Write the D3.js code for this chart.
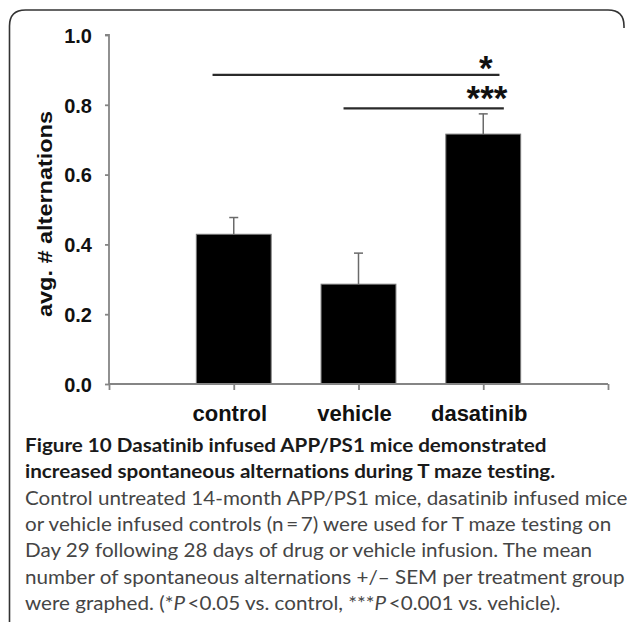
<!DOCTYPE html>
<html>
<head>
<meta charset="utf-8">
<script src="https://cdn.jsdelivr.net/npm/d3@7"></script>
<style>
  html, body { margin: 0; padding: 0; background: #fff; }
  svg { display: block; }
</style>
</head>
<body>
<svg id="chart" width="627" height="622"></svg>
<script>
// ---- data ----
const categories = ["control", "vehicle", "dasatinib"];
const means = [0.429, 0.286, 0.716];
const sems = [0.048, 0.089, 0.058];
const yTicks = [0.0, 0.2, 0.4, 0.6, 0.8, 1.0];
const yLabel = "avg. # alternations";
// significance brackets, in category units (control = 1, vehicle = 2, dasatinib = 3)
const sigFrom = [0.83, 1.88];
const sigTo = [3.13, 3.165];
const sigLevel = [0.886, 0.790];
const sigText = ["*", "***"];
const sigTextPos = [3.02, 3.03];
const captionBold = [
  "Figure 10 Dasatinib infused APP/PS1 mice demonstrated",
  "increased spontaneous alternations during T maze testing."
];
const captionBody = [
  [["Control untreated 14-month APP/PS1 mice, dasatinib infused mice", false]],
  [["or vehicle infused controls (n\u2009=\u20097) were used for T maze testing on", false]],
  [["Day 29 following 28 days of drug or vehicle infusion. The mean", false]],
  [["number of spontaneous alternations +/\u2013 SEM per treatment group", false]],
  [["were graphed. (*", false], ["P", true], ["\u2009<0.05 vs. control, ***", false], ["P", true], ["\u2009<0.001 vs. vehicle).", false]]
];

// ---- layout ----
const svg = d3.select("#chart");
const plot = { left: 109, right: 608, top: 35, bottom: 384 };

const xCat = d3.scaleLinear().domain([0, categories.length + 1]).range([plot.left, plot.right]);
const step = xCat(1) - xCat(0);
const y = d3.scaleLinear().domain([0, 1]).range([plot.bottom, plot.top]);

// frame
const fx0 = 9.5, fy0 = 10, fx1 = 624, r = 16;
svg.append("path")
  .attr("d", `M${fx0},622 L${fx0},${fy0 + r} Q${fx0},${fy0} ${fx0 + r},${fy0} L${fx1 - r},${fy0} Q${fx1},${fy0} ${fx1},${fy0 + r} L${fx1},${fy0 + r + 2}`)
  .attr("fill", "none").attr("stroke", "#333").attr("stroke-width", 1.6);

const axisColor = "#858585";

// bars
const g = svg.append("g");
g.selectAll("rect.bar").data(categories).join("rect")
  .attr("class", "bar")
  .attr("x", (d, i) => xCat(i + 1) - step * 0.3)
  .attr("width", step * 0.6)
  .attr("y", (d, i) => y(means[i]))
  .attr("height", (d, i) => y(0) - y(means[i]))
  .attr("fill", "#000")
  .attr("stroke", "#7a7a7a")
  .attr("stroke-width", 1);

// error bars (upward only)
const err = g.selectAll("g.err").data(categories).join("g").attr("class", "err");
err.append("line")
  .attr("x1", (d, i) => xCat(i + 1)).attr("x2", (d, i) => xCat(i + 1))
  .attr("y1", (d, i) => y(means[i])).attr("y2", (d, i) => y(means[i] + sems[i]))
  .attr("stroke", "#6a6a6a").attr("stroke-width", 1.5);
err.append("line")
  .attr("x1", (d, i) => xCat(i + 1) - 4.5).attr("x2", (d, i) => xCat(i + 1) + 4.5)
  .attr("y1", (d, i) => y(means[i] + sems[i])).attr("y2", (d, i) => y(means[i] + sems[i]))
  .attr("stroke", "#6a6a6a").attr("stroke-width", 1.5);

// y axis
const yAxis = d3.axisLeft(y).tickValues(yTicks).tickFormat(d3.format(".1f")).tickSize(4).tickPadding(13);
const ya = svg.append("g").attr("transform", `translate(${plot.left},0)`).call(yAxis);
ya.select(".domain").attr("stroke", axisColor).attr("stroke-width", 1.8).attr("d", `M-4,${plot.top}H0V${plot.bottom}`);
ya.selectAll(".tick line").attr("stroke", axisColor).attr("stroke-width", 1.8);
ya.selectAll(".tick text")
  .attr("font-family", "'Liberation Sans', Arial, sans-serif")
  .attr("font-weight", "bold").attr("font-size", 20).attr("fill", "#111")
  .attr("dy", "0.36em");

// x axis
const xAxis = d3.axisBottom(xCat).tickValues(d3.range(0, categories.length + 2)).tickSize(6).tickFormat("");
const xa = svg.append("g").attr("transform", `translate(0,${plot.bottom})`).call(xAxis);
xa.select(".domain").attr("stroke", axisColor).attr("stroke-width", 1.8).attr("d", `M${plot.left},0H${plot.right}`);
xa.selectAll(".tick line").attr("stroke", axisColor).attr("stroke-width", 1.8);

svg.append("g").selectAll("text").data(categories).join("text")
  .attr("x", (d, i) => xCat(i + 1) - 4)
  .attr("y", 421)
  .attr("text-anchor", "middle")
  .attr("font-family", "'Liberation Sans', Arial, sans-serif")
  .attr("font-weight", "bold").attr("font-size", 22).attr("fill", "#111")
  .text(d => d);

// y label
svg.append("text")
  .attr("transform", `translate(52,${214}) rotate(-90)`)
  .attr("text-anchor", "middle")
  .attr("font-family", "'Liberation Sans', Arial, sans-serif")
  .attr("font-weight", "bold").attr("font-size", 21).attr("fill", "#111")
  .attr("textLength", 206).attr("lengthAdjust", "spacingAndGlyphs")
  .text(yLabel);

// significance
const sig = svg.append("g");
sig.selectAll("line").data(sigText).join("line")
  .attr("x1", (d, i) => xCat(sigFrom[i])).attr("x2", (d, i) => xCat(sigTo[i]))
  .attr("y1", (d, i) => y(sigLevel[i])).attr("y2", (d, i) => y(sigLevel[i]))
  .attr("stroke", "#2a2a2a").attr("stroke-width", 2.2);
sig.selectAll("text").data(sigText).join("text")
  .attr("x", (d, i) => xCat(sigTextPos[i]))
  .attr("y", (d, i) => y(sigLevel[i]) + (i === 0 ? 5 : 1.5))
  .attr("text-anchor", "middle")
  .attr("font-family", "'Liberation Sans', Arial, sans-serif")
  .attr("font-weight", "bold").attr("font-size", 35).attr("fill", "#111")
  .text(d => d);

// caption (slightly widened glyphs, as in the reference)
const cap = svg.append("g")
  .attr("transform", "translate(25,0) scale(1.058,1)")
  .attr("font-family", "Lato, 'Open Sans', sans-serif")
  .attr("font-size", 19.5)
  .style("font-variant-ligatures", "none");
cap.selectAll("text.b").data(captionBold).join("text")
  .attr("class", "b")
  .attr("x", 0).attr("y", (d, i) => 452 + i * 26)
  .attr("font-weight", "bold").attr("fill", "#1a1a1a")
  .text(d => d);
const body = cap.selectAll("text.r").data(captionBody).join("text")
  .attr("class", "r")
  .attr("x", 0).attr("y", (d, i) => 505 + i * 26.2)
  .attr("fill", "#454545");
body.selectAll("tspan").data(d => d).join("tspan")
  .attr("font-style", d => d[1] ? "italic" : "normal")
  .text(d => d[0]);
</script>
</body>
</html>
